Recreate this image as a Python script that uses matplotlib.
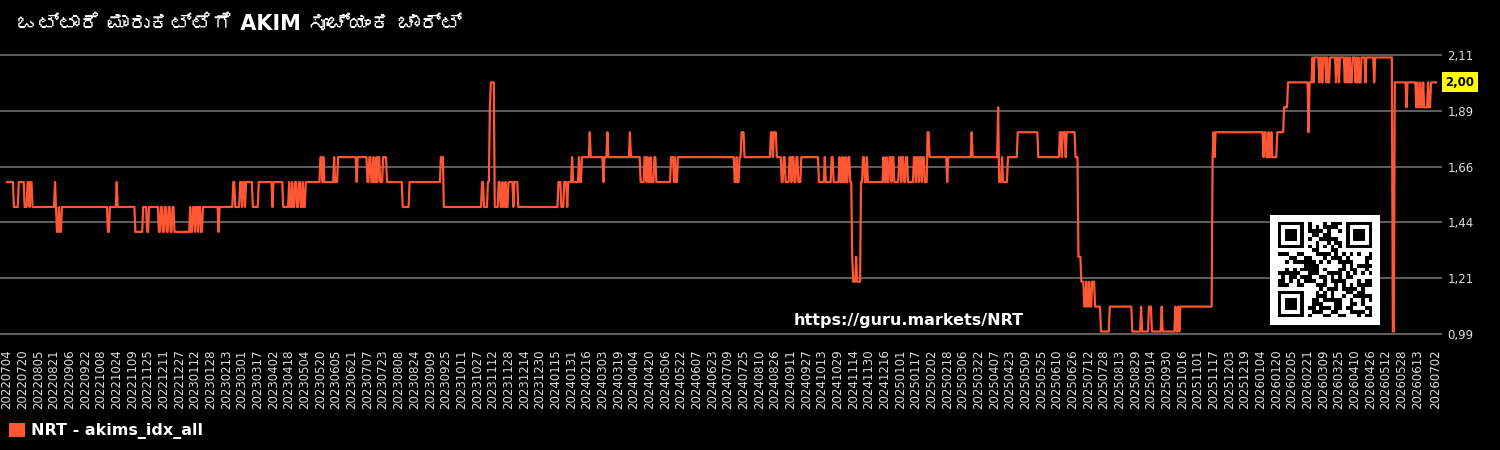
import numpy as np
import pandas as pd
import matplotlib
matplotlib.use("Agg")
import matplotlib.pyplot as plt
from matplotlib import font_manager
from matplotlib.ft2font import FT2Font
from matplotlib.patches import Patch

# --- data -----------------------------------------------------------------
title = "ಒಟ್ಟಾರೆ ಮಾರುಕಟ್ಟೆಗೆ AKIM ಸೂಚ್ಯಂಕ ಚಾರ್ಟ್"
series_label = "NRT - akims_idx_all"
url_text = "https://guru.markets/NRT"

first_date = "2022-07-04"
n_days = 1460

# day offset (from first_date) where the index changes, and the new value
change_day = [
    0, 7, 12, 18, 21, 23, 24, 26, 49, 50,
    51, 53, 54, 56, 103, 105, 112, 113, 131, 139,
    143, 145, 155, 157, 159, 161, 163, 165, 167, 169,
    171, 187, 188, 190, 192, 193, 195, 196, 198, 200,
    216, 217, 231, 233, 238, 240, 241, 243, 244, 251,
    257, 271, 272, 282, 288, 289, 291, 292, 294, 296,
    298, 300, 302, 303, 305, 320, 322, 323, 324, 334,
    335, 338, 357, 358, 368, 370, 372, 374, 375, 377,
    378, 379, 381, 384, 388, 404, 411, 443, 446, 485,
    487, 491, 493, 494, 498, 502, 504, 506, 507, 509,
    510, 512, 517, 518, 522, 563, 566, 569, 572, 573,
    577, 578, 584, 585, 587, 595, 596, 609, 610, 613,
    614, 636, 637, 647, 651, 653, 654, 655, 657, 658,
    661, 663, 678, 681, 682, 683, 685, 743, 745, 746,
    748, 750, 753, 780, 782, 783, 786, 791, 793, 795,
    799, 801, 802, 804, 806, 808, 811, 829, 835, 836,
    842, 844, 850, 851, 853, 854, 856, 857, 859, 861,
    863, 864, 867, 868, 872, 874, 876, 878, 879, 895,
    896, 898, 899, 901, 903, 904, 906, 911, 913, 914,
    916, 918, 920, 926, 928, 929, 931, 932, 934, 935,
    937, 940, 942, 960, 961, 985, 986, 1012, 1013, 1016,
    1017, 1022, 1032, 1053, 1075, 1077, 1078, 1081, 1082, 1091,
    1094, 1097, 1100, 1102, 1103, 1105, 1106, 1108, 1111, 1117,
    1126, 1149, 1158, 1159, 1166, 1169, 1179, 1180, 1193, 1194,
    1196, 1197, 1198, 1231, 1232, 1233, 1234, 1283, 1284, 1286,
    1288, 1289, 1291, 1292, 1297, 1304, 1308, 1329, 1330, 1333,
    1334, 1335, 1340, 1341, 1343, 1344, 1347, 1348, 1349, 1351,
    1357, 1358, 1360, 1361, 1366, 1367, 1368, 1369, 1370, 1371,
    1372, 1374, 1377, 1378, 1379, 1380, 1381, 1383, 1387, 1388,
    1396, 1397, 1415, 1417, 1429, 1430, 1439, 1440, 1441, 1443,
    1444, 1446, 1447, 1451, 1452, 1454,
]
change_value = [
    1.6, 1.5, 1.6, 1.5, 1.6, 1.5, 1.6, 1.5, 1.6, 1.5,
    1.4, 1.5, 1.4, 1.5, 1.4, 1.5, 1.6, 1.5, 1.4, 1.5,
    1.4, 1.5, 1.4, 1.5, 1.4, 1.5, 1.4, 1.5, 1.4, 1.5,
    1.4, 1.5, 1.4, 1.5, 1.4, 1.5, 1.4, 1.5, 1.4, 1.5,
    1.4, 1.5, 1.6, 1.5, 1.6, 1.5, 1.6, 1.5, 1.6, 1.5,
    1.6, 1.5, 1.6, 1.5, 1.6, 1.5, 1.6, 1.5, 1.6, 1.5,
    1.6, 1.5, 1.6, 1.5, 1.6, 1.7, 1.6, 1.7, 1.6, 1.7,
    1.6, 1.7, 1.6, 1.7, 1.6, 1.7, 1.6, 1.7, 1.6, 1.7,
    1.6, 1.7, 1.6, 1.7, 1.6, 1.5, 1.6, 1.7, 1.5, 1.6,
    1.5, 1.6, 1.9, 2.0, 1.5, 1.6, 1.5, 1.6, 1.5, 1.6,
    1.5, 1.6, 1.5, 1.6, 1.5, 1.6, 1.5, 1.6, 1.5, 1.6,
    1.7, 1.6, 1.7, 1.6, 1.7, 1.8, 1.7, 1.6, 1.7, 1.8,
    1.7, 1.8, 1.7, 1.6, 1.7, 1.6, 1.7, 1.6, 1.7, 1.6,
    1.7, 1.6, 1.7, 1.6, 1.7, 1.6, 1.7, 1.6, 1.7, 1.6,
    1.7, 1.8, 1.7, 1.8, 1.7, 1.8, 1.7, 1.6, 1.7, 1.6,
    1.7, 1.6, 1.7, 1.6, 1.7, 1.6, 1.7, 1.6, 1.7, 1.6,
    1.7, 1.6, 1.7, 1.6, 1.7, 1.6, 1.7, 1.6, 1.7, 1.6,
    1.3, 1.2, 1.3, 1.2, 1.6, 1.7, 1.6, 1.7, 1.6, 1.7,
    1.6, 1.7, 1.6, 1.7, 1.6, 1.7, 1.6, 1.7, 1.6, 1.7,
    1.6, 1.7, 1.6, 1.7, 1.6, 1.7, 1.6, 1.7, 1.6, 1.7,
    1.6, 1.8, 1.7, 1.6, 1.7, 1.8, 1.7, 1.9, 1.6, 1.7,
    1.6, 1.7, 1.8, 1.7, 1.8, 1.7, 1.8, 1.7, 1.8, 1.7,
    1.3, 1.2, 1.1, 1.2, 1.1, 1.2, 1.1, 1.2, 1.1, 1.0,
    1.1, 1.0, 1.1, 1.0, 1.1, 1.0, 1.1, 1.0, 1.1, 1.0,
    1.1, 1.0, 1.1, 1.7, 1.8, 1.7, 1.8, 1.7, 1.8, 1.7,
    1.8, 1.7, 1.8, 1.7, 1.8, 1.9, 2.0, 1.8, 2.0, 2.1,
    2.0, 2.1, 2.0, 2.1, 2.0, 2.1, 2.0, 2.1, 2.0, 2.1,
    2.0, 2.1, 2.0, 2.1, 2.0, 2.1, 2.0, 2.1, 2.0, 2.1,
    2.0, 2.1, 2.0, 2.1, 2.0, 2.1, 2.0, 2.1, 2.0, 2.1,
    2.0, 2.1, 1.0, 2.0, 1.9, 2.0, 1.9, 2.0, 1.9, 2.0,
    1.9, 2.0, 1.9, 2.0, 1.9, 2.0,
]
assert len(change_day) == len(change_value)

y_min, y_max = 0.99, 2.11
y_tick_labels = ["0,99", "1,21", "1,44", "1,66", "1,89", "2,11"]
tick_every = 16

# --- build the daily series ----------------------------------------------
dates = pd.date_range(first_date, periods=n_days).strftime("%Y%m%d")
runs = np.diff(change_day + [n_days])
values = np.repeat(change_value, runs)
x = np.arange(n_days)


def family_with(char):
    """Return the name of an installed font family that has the glyph."""
    for f in font_manager.fontManager.ttflist:
        try:
            if ord(char) in FT2Font(f.fname).get_charmap():
                return f.name
        except Exception:
            continue
    return None


kn_family = family_with("ಒ")
title_family = ["DejaVu Sans"] + ([kn_family] if kn_family else [])

line_color = "#ff5733"
text_color = "#dddddd"

fig = plt.figure(figsize=(15, 4.5), dpi=100, facecolor="black")
ax = fig.add_axes([0, 1 - 334 / 450, 1441 / 1500, 279 / 450])
ax.set_facecolor("black")
ax.plot(x, values, color=line_color, lw=1.6, zorder=3)

ax.set_xlim(-7.2, n_days - 1 + 5.2)
ax.set_ylim(y_min, y_max)

xt = list(range(0, n_days - 16, tick_every)) + [n_days - 1]
ax.set_xticks(xt)
ax.set_xticklabels([dates[i] for i in xt], rotation=90, fontsize=8.5,
                   color=text_color)
ax.set_yticks(np.linspace(y_min, y_max, len(y_tick_labels)))
ax.set_yticklabels(y_tick_labels, fontsize=8.5, color=text_color)
ax.yaxis.tick_right()
ax.tick_params(axis="x", length=0, pad=11)
ax.tick_params(axis="y", length=0, pad=4.5)
for s in ax.spines.values():
    s.set_visible(False)
ax.grid(axis="y", color="#5c5c5c", lw=1.5)
ax.grid(axis="x", visible=False)
for gl in ax.get_ygridlines():
    gl.set_clip_on(False)

# last value tag
last = values[-1]
ax.text(1.003, last, f"{last:.2f}".replace(".", ","),
        transform=ax.get_yaxis_transform(), ha="left", va="center",
        fontsize=8.5, fontweight="bold", color="black",
        bbox=dict(boxstyle="square,pad=0.3", fc="#ffff00", ec="none"))

ax.text(0.7105, 0.05, url_text, transform=ax.transAxes, ha="right",
        va="center", fontsize=11.5, fontweight="bold", color="white")

fig.text(17 / 1500, 1 - 24 / 450, title, fontsize=15, fontweight="bold",
         color="white", va="center", ha="left", family=title_family)

fig.legend(handles=[Patch(facecolor=line_color, label=series_label)],
           loc="center left", bbox_to_anchor=(9 / 1500, 1 - 431 / 450),
           frameon=False, prop={"weight": "bold", "size": 11.5},
           labelcolor="white", handlelength=1.0, handleheight=1.0,
           handletextpad=0.4, borderaxespad=0, borderpad=0)


# QR-like badge built from the url bytes
def qr_matrix(text, size=25):
    raw = np.frombuffer((text * 30).encode(), dtype=np.uint8)
    bits = np.unpackbits(raw)[: size * size].reshape(size, size)
    rr, cc = np.indices((size, size))
    grid = bits ^ ((rr * cc) % 3 == 0)
    grid[6, :] = (np.arange(size) + 1) % 2
    grid[:, 6] = (np.arange(size) + 1) % 2
    for r0, c0 in [(0, 0), (0, size - 7), (size - 7, 0)]:
        grid[max(r0 - 1, 0):r0 + 8, max(c0 - 1, 0):c0 + 8] = 0
        grid[r0:r0 + 7, c0:c0 + 7] = 1
        grid[r0 + 1:r0 + 6, c0 + 1:c0 + 6] = 0
        grid[r0 + 2:r0 + 5, c0 + 2:c0 + 5] = 1
    return np.pad(grid, 2)


qax = fig.add_axes([1270 / 1500, 1 - 325 / 450, 110 / 1500, 110 / 450])
qax.imshow(qr_matrix(url_text), cmap="gray_r", interpolation="nearest",
           aspect="auto")
qax.set_axis_off()

fig.savefig("out.png", dpi=100, facecolor="black")
